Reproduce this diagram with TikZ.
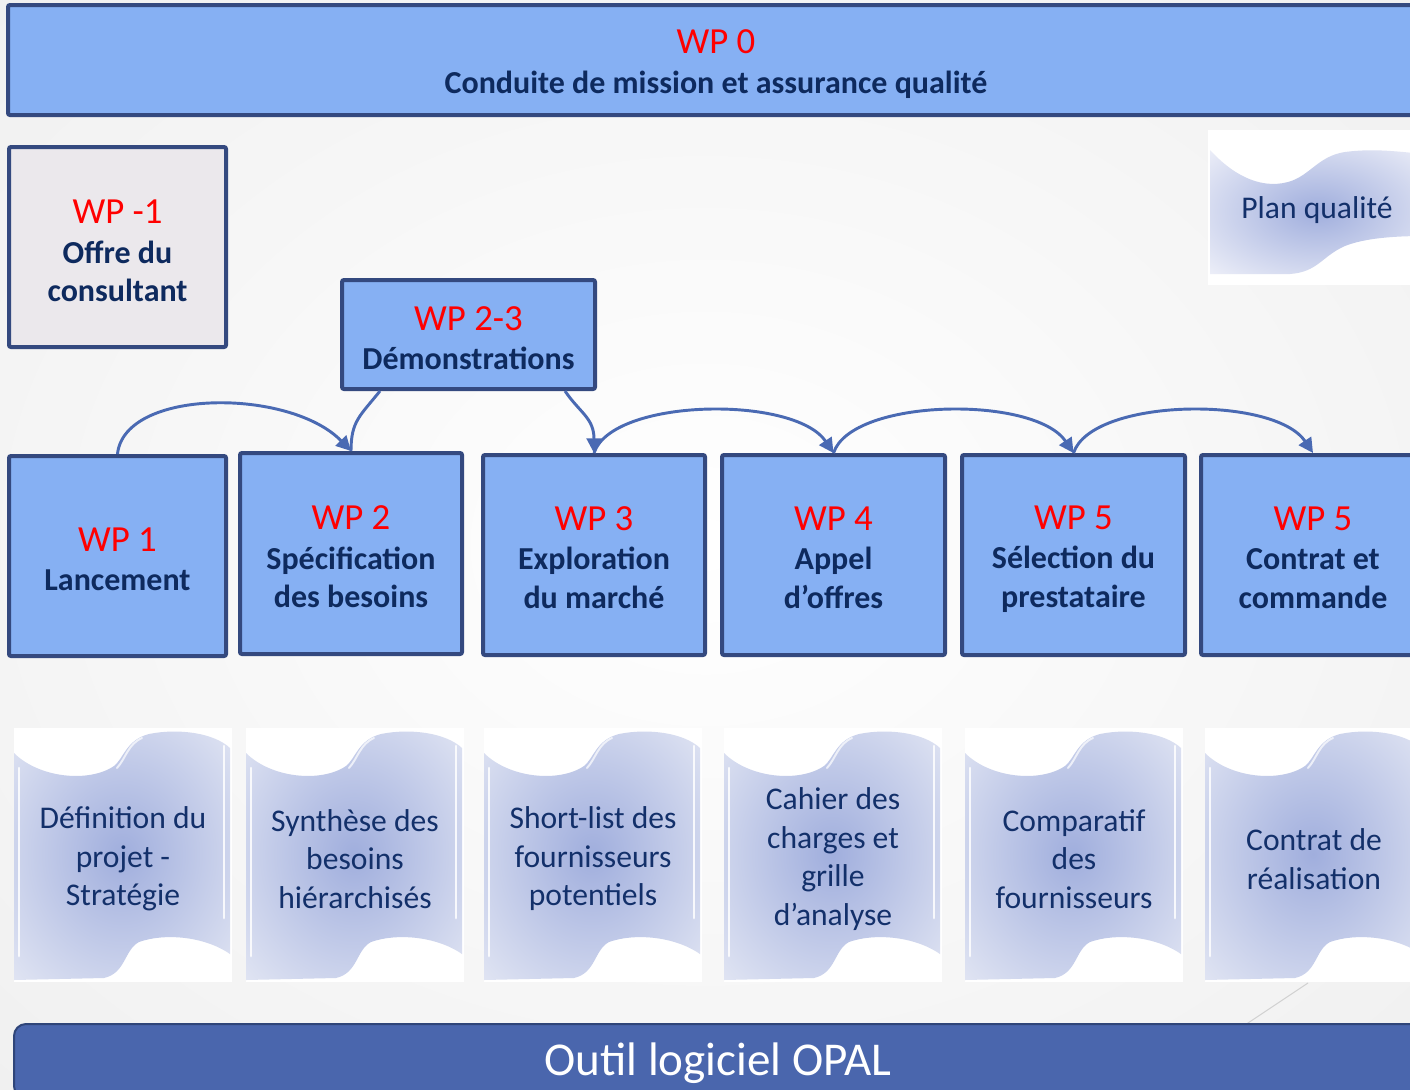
\documentclass[tikz,border=0pt]{standalone}
\usepackage{fontspec}
\setmainfont{Carlito}
\usetikzlibrary{arrows.meta}
\definecolor{boxblue}{HTML}{86B0F3}
\definecolor{boxborder}{HTML}{34497F}
\definecolor{greybox}{HTML}{EBE8EC}
\definecolor{wpred}{HTML}{FF0000}
\definecolor{navy}{HTML}{0E2A5E}
\definecolor{scrolltxt}{HTML}{13306A}
\definecolor{arrowblue}{HTML}{4A6AB3}
\definecolor{barblue}{HTML}{4A66AD}
\definecolor{barborder}{HTML}{2F4579}
\definecolor{scrollin}{HTML}{A0AEDD}
\definecolor{scrollout}{HTML}{E1E5F3}
\definecolor{bgedge}{HTML}{EAEAEA}
\definecolor{planout}{HTML}{F2F3FA}
\pgfdeclareradialshading{scrollshade}{\pgfpoint{0bp}{0bp}}{color(0bp)=(scrollin); color(36bp)=(scrollout); color(50bp)=(scrollout)}
\pgfdeclareradialshading{planshade}{\pgfpoint{0bp}{0bp}}{color(0bp)=(scrollin); color(38bp)=(planout); color(50bp)=(white)}
\pgfdeclareradialshading{bgshade}{\pgfpoint{0bp}{0bp}}{color(0bp)=(white); color(50bp)=(bgedge)}
\newcommand{\pxl}[1]{#1*0.75pt}
\newcommand{\wpl}[1]{{\color{wpred}\fontsize{27.6}{28.9}\selectfont\mdseries #1}\\[0.6pt]}
\begin{document}
\begin{tikzpicture}[x=0.75pt,y=-0.75pt,
  wpbox/.style={draw=boxborder, line width=3pt, fill=boxblue, rounded corners=1.5pt, inner sep=0pt},
  wptext/.style={inner sep=0pt, align=center, text=navy, font=\fontsize{24}{28.9}\selectfont\bfseries},
  conn/.style={draw=arrowblue, line width=2.2pt},
  arrowconn/.style={conn, -{Triangle[length=11pt,width=11pt]}},
  scrolltext/.style={align=center, text=scrolltxt, font=\fontsize{23.7}{28.9}\selectfont, inner sep=0pt},
  scrollpic/.pic={
    \fill[white] (0,0) rectangle (218,254);
    \shade[shading=scrollshade] (0,25) .. controls (25,50) and (75,55) .. (100,38) .. controls (110,30) and (112,12) .. (135,6) .. controls (165,0) and (200,5) .. (216,20) -- (216,226) .. controls (190,208) and (150,205) .. (125,214) .. controls (110,222) and (112,245) .. (90,250) -- (0,252) -- cycle;
    \draw[white, opacity=0.85, line width=2pt, line cap=round] (5,40) -- (5,228);
    \draw[white, opacity=0.85, line width=2pt, line cap=round] (210,18) -- (210,190);
    \draw[white, opacity=0.7, line width=1.5pt, line cap=round] (103,40) .. controls (112,30) and (114,16) .. (128,10);
    \draw[white, opacity=0.7, line width=1.5pt, line cap=round] (116,240) .. controls (118,228) and (122,220) .. (134,214);
  }
]
\useasboundingbox (0,0) rectangle (1410,1089);
\clip (0,0) rectangle (1410,1089);
\shade[shading=bgshade] (0,0) rectangle (1410,1089);

% WP 0
\node[wpbox, minimum width=\pxl{1416}, minimum height=\pxl{110}] (wp0) at (716,60) {};
\node[wptext] (wp0t) at (716,64) {\wpl{WP 0}Conduite de mission et assurance qualité};

% WP -1
\node[wpbox, fill=greybox, minimum width=\pxl{217}, minimum height=\pxl{200}] (wpm1) at (117.5,247) {};
\node[wptext] (wpm1t) at (117.5,251) {\wpl{WP -1}Offre du\\consultant};

% WP 2-3
\node[wpbox, minimum width=\pxl{253}, minimum height=\pxl{109}] (wp23) at (468.5,334.5) {};
\node[wptext] (wp23t) at (468.5,338) {\wpl{WP 2-3}Démonstrations};

% main row
\node[wpbox, minimum width=\pxl{217}, minimum height=\pxl{200}] (wp1) at (117.5,556) {};
\node[wptext] (wp1t) at (117.5,559.5) {\wpl{WP 1}Lancement};
\node[wpbox, minimum width=\pxl{222}, minimum height=\pxl{201}] (wp2) at (351,553.5) {};
\node[wptext] (wp2t) at (351,557) {\wpl{WP 2}Spécification\\des besoins};
\node[wpbox, minimum width=\pxl{222}, minimum height=\pxl{200}] (wp3) at (594,555) {};
\node[wptext] (wp3t) at (594,557.5) {\wpl{WP 3}Exploration\\du marché};
\node[wpbox, minimum width=\pxl{223}, minimum height=\pxl{200}] (wp4) at (833.5,555) {};
\node[wptext] (wp4t) at (833.5,557.5) {\wpl{WP 4}Appel\\d’offres};
\node[wpbox, minimum width=\pxl{223}, minimum height=\pxl{200}] (wp5) at (1073.5,555) {};
\node[wptext] (wp5t) at (1073.5,559) {\wpl{WP 5}Sélection du\\prestataire};
\node[wpbox, minimum width=\pxl{224}, minimum height=\pxl{200}] (wp6) at (1313,555) {};
\node[wptext] (wp6t) at (1313,557.5) {\wpl{WP 5}Contrat et\\commande};

% connectors
\draw[arrowconn] (wp1.north) .. controls +(7,-66) and +(-61,-63) .. (wp2.north);
\draw[conn] ([xshift=\pxl{-88.5}]wp23.south) .. controls +(-20,25) and +(0,-30) .. (wp2.north);
\draw[arrowconn] ([xshift=\pxl{96.5}]wp23.south) .. controls +(15,22) and +(0,-35) .. (wp3.north);
\draw[arrowconn] (wp3.north) .. controls +(18,-55) and +(-39,-58) .. (wp4.north);
\draw[arrowconn] (wp4.north) .. controls +(18,-55) and +(-39,-58) .. (wp5.north);
\draw[arrowconn] (wp5.north) .. controls +(18,-55) and +(-39,-58) .. (wp6.north);

% plan qualite
\fill[white] (1208,130) rectangle (1425,285);
\shade[shading=planshade] (1210,150) .. controls (1230,172) and (1258,190) .. (1288,182) .. controls (1310,176) and (1318,156) .. (1345,152) .. controls (1375,148) and (1400,152) .. (1425,154) -- (1425,236) .. controls (1395,236) and (1365,238) .. (1345,246) .. controls (1322,256) and (1318,272) .. (1290,274) -- (1210,274) -- cycle;
\node[scrolltext] (plan) at (1317,210) {Plan qualité};

% decorative line
\draw[gray!35, line width=0.8pt] (1245,1025) -- (1308,983);

% scrolls
\foreach \x/\nm/\txt in {14/d1/{Définition du\\projet -\\Stratégie},
                        246/d2/{Synthèse des\\besoins\\hiérarchisés},
                        484/d3/{Short-list des\\fournisseurs\\potentiels},
                        724/d4/{Cahier des\\charges et\\grille\\d’analyse},
                        965/d5/{Comparatif\\des\\fournisseurs},
                        1205/d6/{Contrat de\\réalisation}}{
  \pic at (\x,728) {scrollpic};
  \node[scrolltext] (\nm) at ({\x+109},859) {\txt};
}

% bottom bar
\node[draw=barborder, fill=barblue, line width=1.5pt, rounded corners=9pt, minimum width=\pxl{1408}, minimum height=\pxl{74}, inner sep=0pt] (opal) at (718,1061) {};
\node[text=white, inner sep=0pt, font=\fontsize{35.3}{40}\selectfont] (opalt) at (718,1063) {Outil logiciel OPAL};
\end{tikzpicture}
\end{document}
